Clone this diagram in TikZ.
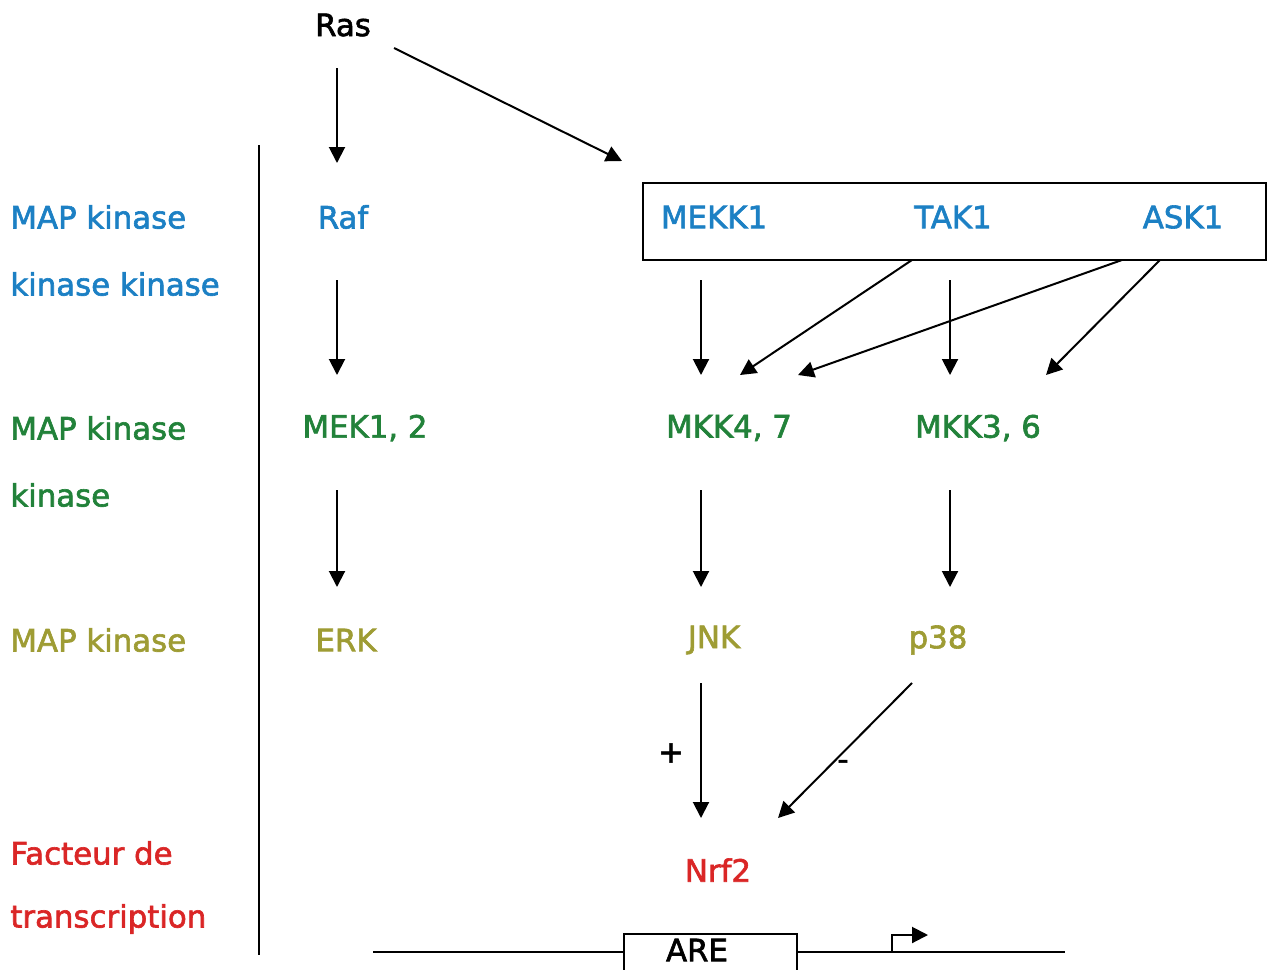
\documentclass[tikz,border=0pt]{standalone}
\usepackage{fontspec}
\setmainfont{DejaVu Sans}[FakeBold=2]
\usetikzlibrary{arrows.meta,calc}
\definecolor{cblue}{RGB}{28,128,196}
\definecolor{cgreen}{RGB}{34,130,58}
\definecolor{colive}{RGB}{158,156,52}
\definecolor{cred}{RGB}{218,38,38}
\tikzset{
  arr/.style={line width=1pt,-{Triangle[length=8pt,width=8pt]}},
  lbl/.style={inner sep=0pt,font=\fontsize{15.4}{17}\selectfont},
  side/.style={lbl,anchor=west},
}
\begin{document}
\begin{tikzpicture}[x=0.5pt,y=-0.5pt]
\useasboundingbox (0,0) rectangle (1268,969);
\clip (0,0) rectangle (1268,969);
% side labels
\node[side,text=cblue] (l1) at (10,217) {MAP kinase};
\node[side,text=cblue] (l2) at (10,284) {kinase kinase};
\node[side,text=cgreen] (l3) at (10,428) {MAP kinase};
\node[side,text=cgreen] (l4) at (10,495) {kinase};
\node[side,text=colive] (l5) at (10,640) {MAP kinase};
\node[side,text=cred] (l6) at (10,853) {Facteur de};
\node[side,text=cred] (l7) at (10,919) {transcription};
\coordinate (septop) at (259,145);
\coordinate (sepbot) at (259,955);
\draw[line width=1pt] (septop) -- (sepbot);
% nodes
\node[lbl] (ras) at (343,25) {Ras};
\node[lbl,text=cblue] (raf) at (343,217) {Raf};
\node[lbl,text=cgreen] (mek) at (365,428) {MEK1, 2};
\node[lbl,text=colive] (erk) at (346,640) {ERK};
\node[draw,line width=1pt,inner sep=0pt,minimum width=311.5pt,minimum height=38.5pt] (box) at (954.5,221.5) {};
\node[lbl,text=cblue] (mekk) at (714,217) {MEKK1};
\node[lbl,text=cblue] (tak) at (953,217) {TAK1};
\node[lbl,text=cblue] (ask) at (1183,217) {ASK1};
\node[lbl,text=cgreen] (mkk47) at (729,428) {MKK4, 7};
\node[lbl,text=cgreen] (mkk36) at (978,428) {MKK3, 6};
\node[lbl,text=colive] (jnk) at (714,640) {JNK};
\node[lbl,text=colive] (p38) at (938,640) {p38};
\node[lbl,text=cred] (nrf) at (718,870) {Nrf2};
\node[lbl] (plus) at (671,753) {+};
\node[lbl] (minus) at (843,765) {-};
% arrows
\draw[arr] ($(ras)+(-6,43)$) -- ($(raf)+(-6,-54)$);
\draw[arr] ($(ras)+(51,23)$) -- ($(box.north west)+(-20,-21)$);
\draw[arr] ($(raf)+(-6,63)$) -- ($(mek)+(-28,-53)$);
\draw[arr] ($(mek)+(-28,62)$) -- ($(erk)+(-9,-53)$);
\draw[arr] ($(mekk)+(-13,63)$) -- ($(mkk47)+(-28,-53)$);
\draw[arr] ($(tak)+(-3,63)$) -- ($(mkk36)+(-28,-53)$);
\draw[arr] ($(tak)+(-41,43)$) -- ($(mkk47)+(11,-53)$);
\draw[arr] ($(ask)+(-61,43)$) -- ($(mkk47)+(69,-53)$);
\draw[arr] ($(ask)+(-23,43)$) -- ($(mkk36)+(68,-53)$);
\draw[arr] ($(mkk47)+(-28,62)$) -- ($(jnk)+(-13,-53)$);
\draw[arr] ($(mkk36)+(-28,62)$) -- ($(p38)+(12,-53)$);
\draw[arr] ($(jnk)+(-13,43)$) -- ($(nrf)+(-17,-52)$);
\draw[arr] ($(p38)+(-26,43)$) -- ($(nrf)+(60,-52)$);
% DNA
\node[draw,line width=1pt,inner sep=0pt,minimum width=86.5pt,minimum height=21pt,anchor=north west] (are) at (623,933) {};
\node[lbl] (aretxt) at (697,950) {ARE};
\coordinate (dnaL) at (373,952);
\coordinate (dnaR) at (1065,952);
\coordinate (prom) at (892,952);
\coordinate (promtip) at (928,935);
\draw[line width=1pt] (dnaL) -- (are.west |- dnaL);
\draw[line width=1pt] (are.east |- dnaR) -- (dnaR);
\draw[line width=1pt,-{Triangle[length=8pt,width=8pt]}] (prom) |- (promtip);
\end{tikzpicture}
\end{document}
